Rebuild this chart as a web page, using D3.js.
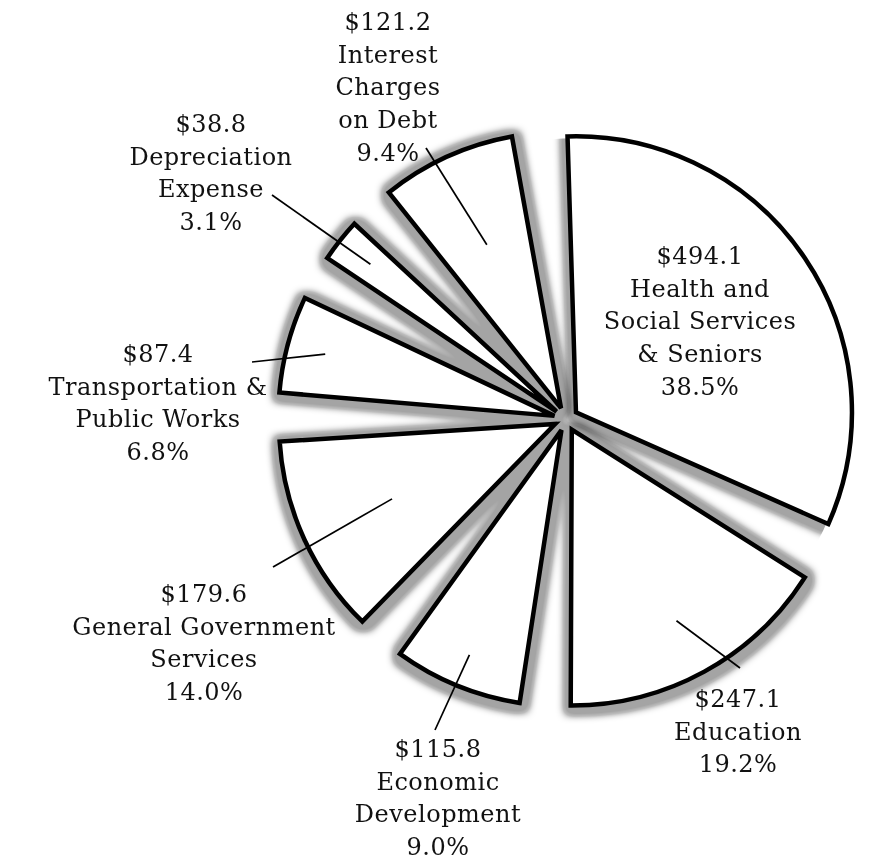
<!DOCTYPE html>
<html>
<head>
<meta charset="utf-8">
<script src="https://cdn.jsdelivr.net/npm/d3@7"></script>
<style>
body { margin: 0; background: #fff; }
text { font-family: "DejaVu Serif", serif; font-size: 24px; letter-spacing: 0.5px; fill: #111; }
</style>
</head>
<body>
<script>
var categories = ["Health and Social Services & Seniors", "Education", "Economic Development",
    "General Government Services", "Transportation & Public Works", "Depreciation Expense",
    "Interest Charges on Debt"];
var amounts = [494.1, 247.1, 115.8, 179.6, 87.4, 38.8, 121.2];
var percents = ["38.5%", "19.2%", "9.0%", "14.0%", "6.8%", "3.1%", "9.4%"];
var labelLines = [
    ["Health and", "Social Services", "& Seniors"],
    ["Education"],
    ["Economic", "Development"],
    ["General Government", "Services"],
    ["Transportation &", "Public Works"],
    ["Depreciation", "Expense"],
    ["Interest", "Charges", "on Debt"]
];

var width = 873,
    height = 863,
    cx = 566,
    cy = 419,
    radius = 276,
    explode = 12,
    lineH = 32.7;

// label anchor (x, first baseline), leader outer end, leader inner radius fraction
var layout = [
    {x: 700, y: 264},
    {x: 738, y: 707, lx: 740, ly: 668, f: 0.79},
    {x: 438, y: 757, lx: 435, ly: 730, f: 0.88},
    {x: 204, y: 602, lx: 273, ly: 567, f: 0.65},
    {x: 158, y: 362, lx: 252, ly: 362, f: 0.86},
    {x: 211, y: 132, lx: 272, ly: 195, f: 0.86},
    {x: 388, y: 30, lx: 426, ly: 148, f: 0.65}
];

var rad = Math.PI / 180;

var pie = d3.pie()
    .sort(null)
    .startAngle(-6 * rad)
    .endAngle(354 * rad)
    .padAngle(8.5 * rad);

var arcs = pie(amounts);

var arc = d3.arc()
    .innerRadius(0)
    .outerRadius(radius)
    .padAngle(0)
    .startAngle(function(d) { return d.startAngle + d.padAngle / 2; })
    .endAngle(function(d) { return d.endAngle - d.padAngle / 2; });

function mid(d) { return (d.startAngle + d.endAngle) / 2; }
function apex(d) {
    var a = mid(d);
    return [cx + explode * Math.sin(a), cy - explode * Math.cos(a)];
}

var svg = d3.select("body").append("svg")
    .attr("width", width)
    .attr("height", height);

// soft grey halo, capped so it stays a flat grey where slices crowd together
var defs = svg.append("defs");
var filter = defs.append("filter")
    .attr("id", "shadow")
    .attr("x", "-20%").attr("y", "-20%")
    .attr("width", "140%").attr("height", "140%");
filter.append("feMorphology").attr("in", "SourceAlpha").attr("operator", "dilate").attr("radius", 6);
filter.append("feGaussianBlur").attr("stdDeviation", 4.5);
filter.append("feOffset").attr("dx", 1).attr("dy", 2);
filter.append("feComponentTransfer")
    .append("feFuncA").attr("type", "table").attr("tableValues", "0 0.26 0.36 0.36 0.36");

var a0 = apex(arcs[0]);
defs.append("clipPath").attr("id", "clipHealth")
    .append("circle")
    .attr("cx", a0[0]).attr("cy", a0[1])
    .attr("r", radius - 2);

// shadows: everything but the big slice, then the big slice clipped to its own disc
svg.append("g")
    .attr("filter", "url(#shadow)")
    .selectAll("path")
    .data(arcs.slice(1))
    .enter().append("path")
    .attr("transform", function(d) { return "translate(" + apex(d) + ")"; })
    .attr("d", arc)
    .style("fill", "#000");

svg.append("g")
    .attr("clip-path", "url(#clipHealth)")
    .append("g")
    .attr("filter", "url(#shadow)")
    .append("path")
    .datum(arcs[0])
    .attr("transform", function(d) { return "translate(" + apex(d) + ")"; })
    .attr("d", arc)
    .style("fill", "#000");

svg.append("g")
    .selectAll("path")
    .data(arcs)
    .enter().append("path")
    .attr("class", "slice")
    .attr("transform", function(d) { return "translate(" + apex(d) + ")"; })
    .attr("d", arc)
    .style("fill", "#fff")
    .style("stroke", "#000")
    .style("stroke-width", 4.5)
    .style("stroke-linejoin", "miter");

// leader lines
svg.append("g")
    .selectAll("line")
    .data(arcs.filter(function(d, i) { return layout[i].f; }))
    .enter().append("line")
    .attr("x1", function(d) { var p = apex(d), a = mid(d), r = layout[d.index].f * radius; return p[0] + r * Math.sin(a); })
    .attr("y1", function(d) { var p = apex(d), a = mid(d), r = layout[d.index].f * radius; return p[1] - r * Math.cos(a); })
    .attr("x2", function(d) { return layout[d.index].lx; })
    .attr("y2", function(d) { return layout[d.index].ly; })
    .style("stroke", "#000")
    .style("stroke-width", 1.7);

// labels
var label = svg.append("g")
    .selectAll("text")
    .data(arcs)
    .enter().append("text")
    .attr("text-anchor", "middle")
    .attr("x", function(d) { return layout[d.index].x; })
    .attr("y", function(d) { return layout[d.index].y; });

label.each(function(d) {
    var i = d.index;
    var lines = ["$" + amounts[i].toFixed(1)].concat(labelLines[i], [percents[i]]);
    d3.select(this).selectAll("tspan")
        .data(lines)
        .enter().append("tspan")
        .attr("x", layout[i].x)
        .attr("dy", function(t, j) { return j === 0 ? 0 : lineH; })
        .text(function(t) { return t; });
});
</script>
</body>
</html>
